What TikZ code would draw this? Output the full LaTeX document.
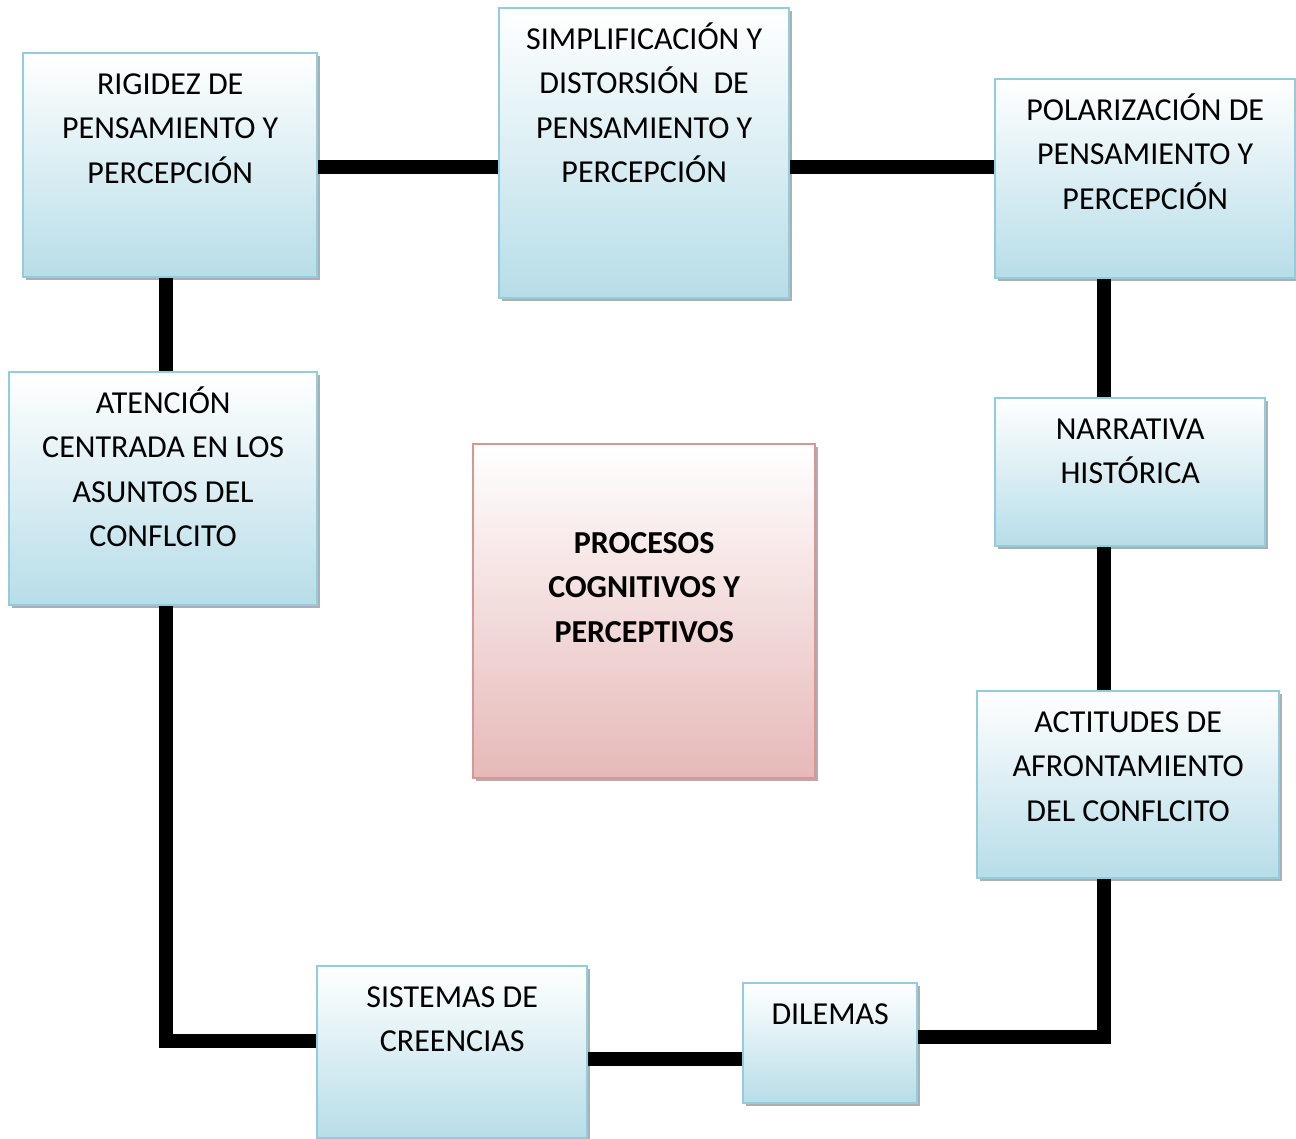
\documentclass[tikz,border=0pt]{standalone}
\usepackage{fontspec}
\setmainfont{Carlito}
\usepackage{tikz}
\usetikzlibrary{shadows}
\definecolor{boxblue}{RGB}{183,221,232}
\definecolor{lineblue}{RGB}{146,205,221}
\definecolor{boxpink}{RGB}{230,185,184}
\definecolor{linepink}{RGB}{217,150,148}
% width, height, top gap, text
\newcommand{\boxtext}[4]{\parbox[c][#2][t]{#1}{\centering\vspace*{#3}\strut #4}}
\tikzset{
  myblue/.style={
    draw=lineblue,
    shape=rectangle,
    line width=1.2pt,
    top color=white,
    bottom color=boxblue,
    inner sep=0pt,
    anchor=north west,
    font=\fontsize{16}{22.25}\selectfont,
    drop shadow={shadow xshift=1.6pt, shadow yshift=-1.6pt, fill=gray!70, opacity=.9},
  },
  mypink/.style={
    myblue,
    draw=linepink,
    bottom color=boxpink,
    font=\fontsize{16}{22.25}\selectfont\bfseries,
  },
  myline/.style={
    draw=black,
    line width=7pt,
  },
}

\begin{document}
\begin{tikzpicture}[x=0.5pt,y=-0.5pt]
  \useasboundingbox (0,0) rectangle (1296,1139);

  \node[myblue] (1) at (22,52) {\boxtext{147pt}{112pt}{5pt}{RIGIDEZ DE\\ PENSAMIENTO Y\\ PERCEPCIÓN}};
  \node[myblue] (2) at (498,7) {\boxtext{145pt}{145pt}{5pt}{SIMPLIFICACIÓN Y\\ DISTORSIÓN~ DE\\ PENSAMIENTO Y\\ PERCEPCIÓN}};
  \node[myblue] (3) at (994,78) {\boxtext{150pt}{99.5pt}{5pt}{POLARIZACIÓN DE\\ PENSAMIENTO Y\\ PERCEPCIÓN}};
  \node[myblue] (4) at (8,371) {\boxtext{154pt}{116.5pt}{5pt}{ATENCIÓN\\ CENTRADA EN LOS\\ ASUNTOS DEL\\ CONFLCITO}};
  \node[mypink] (5) at (472,443) {\boxtext{171pt}{167pt}{39pt}{PROCESOS\\ COGNITIVOS Y\\ PERCEPTIVOS}};
  \node[myblue] (6) at (994,397) {\boxtext{135pt}{74pt}{5pt}{NARRATIVA\\ HISTÓRICA}};
  \node[myblue] (7) at (976,690) {\boxtext{151pt}{93.5pt}{5pt}{ACTITUDES DE\\ AFRONTAMIENTO\\ DEL CONFLCITO}};
  \node[myblue] (8) at (316,965) {\boxtext{135pt}{86pt}{5pt}{SISTEMAS DE\\ CREENCIAS}};
  \node[myblue] (9) at (742,982) {\boxtext{87pt}{60pt}{5pt}{DILEMAS}};

  % where the connectors run
  \coordinate (l) at (166,0);
  \coordinate (r) at (1104,0);
  \coordinate (t) at (0,167);
  \coordinate (bl) at (0,1041);
  \coordinate (bm) at (0,1059);
  \coordinate (br) at (0,1037);

  \draw[myline] (1.east |- t) -- (2.west |- t);
  \draw[myline] (2.east |- t) -- (3.west |- t);
  \draw[myline] (1.south -| l) -- (4.north -| l);
  \draw[myline] (3.south -| r) -- (6.north -| r);
  \draw[myline] (6.south -| r) -- (7.north -| r);
  \draw[myline] (4.south -| l) |- (8.west |- bl);
  \draw[myline] (8.east |- bm) -- (9.west |- bm);
  \draw[myline] (9.east |- br) -| (7.south -| r);
\end{tikzpicture}
\end{document}
